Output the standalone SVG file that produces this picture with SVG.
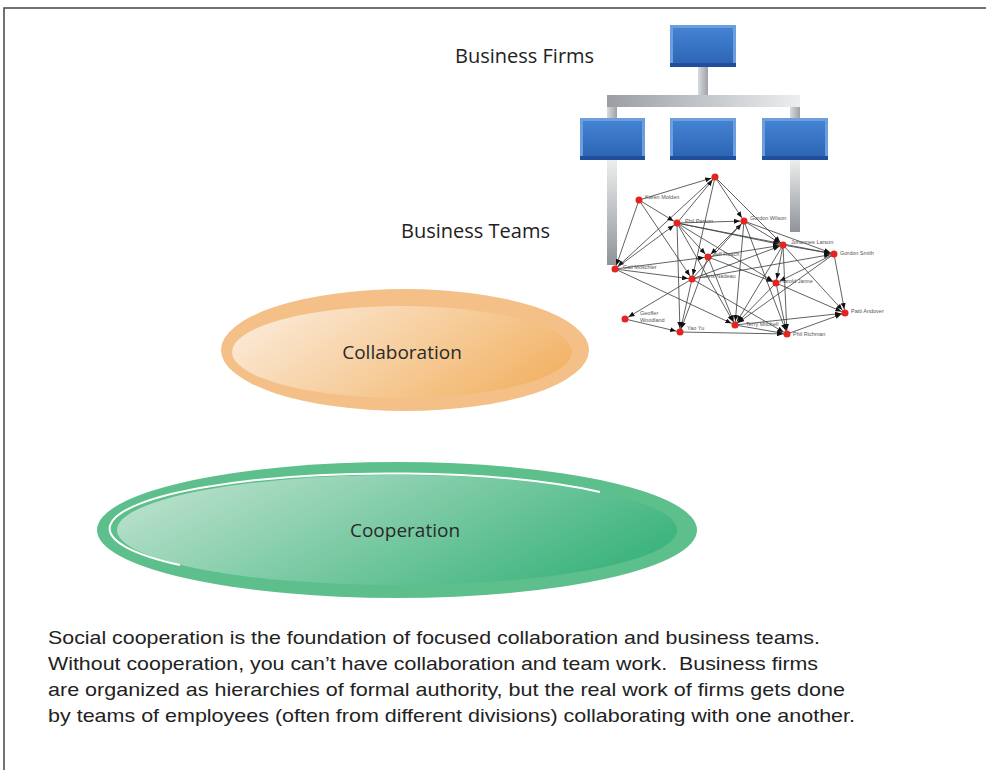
<svg xmlns="http://www.w3.org/2000/svg" width="987" height="770" viewBox="0 0 987 770">
<defs>
<style>
.title{font-family:"Open Sans","Noto Sans",sans-serif;font-size:20px;fill:#222}
.ell{font-family:"Open Sans","Noto Sans",sans-serif;font-size:19px;fill:#2a2a2a}
.para{font-family:"Liberation Sans",Arial,sans-serif;font-size:19px;fill:#222}
.lbl{font-family:"Liberation Sans",Arial,sans-serif;font-size:5.5px;fill:#555}
.dot{fill:#e52421}
.edge line{stroke:#3a3a3a;stroke-width:0.8;marker-end:url(#arr)}
.boxo{fill:#6c9ddd}
.boxi{fill:url(#blue)}
.boxb{fill:#1f4f9c}
</style>
<marker id="arr" markerUnits="userSpaceOnUse" markerWidth="6" markerHeight="5" refX="10" refY="2.5" orient="auto">
<path d="M0,0 L6,2.5 L0,5 z" fill="#111"/>
</marker>
<linearGradient id="blue" x1="0" y1="0" x2="0" y2="1">
<stop offset="0" stop-color="#4383d2"/><stop offset="1" stop-color="#2e66b6"/>
</linearGradient>
<linearGradient id="stemH" x1="0" y1="0" x2="1" y2="0">
<stop offset="0" stop-color="#d8dadc"/><stop offset="1" stop-color="#9ea2a7"/>
</linearGradient>
<linearGradient id="bar" x1="0" y1="0" x2="1" y2="0">
<stop offset="0" stop-color="#9a9ea4"/><stop offset="1" stop-color="#eceeef"/>
</linearGradient>
<linearGradient id="stemV" x1="0" y1="0" x2="0" y2="1">
<stop offset="0" stop-color="#eceded"/><stop offset="1" stop-color="#8f9399"/>
</linearGradient>
<linearGradient id="orange" x1="0" y1="0.3" x2="1" y2="0.7">
<stop offset="0" stop-color="#fbe9d5"/><stop offset="1" stop-color="#f2b264"/>
</linearGradient>
<linearGradient id="green" x1="0" y1="0.3" x2="1" y2="0.7">
<stop offset="0" stop-color="#b8e0cb"/><stop offset="1" stop-color="#38b27a"/>
</linearGradient>
</defs>
<rect width="987" height="770" fill="#fff"/>
<path d="M4,770 V8 H986" fill="none" stroke="#444" stroke-width="1.5"/>

<g id="org-connectors">
<rect x="698" y="67" width="10" height="30" fill="url(#stemH)"/>
<rect x="607" y="95" width="193" height="12" fill="url(#bar)"/>
<rect x="607" y="107" width="10" height="11" fill="url(#stemH)"/>
<rect x="790" y="107" width="10" height="11" fill="url(#stemH)"/>
<rect x="607" y="160" width="10" height="105" fill="url(#stemV)"/>
<rect x="790" y="160" width="10" height="72" fill="url(#stemV)"/>
</g>

<g id="box-top"><rect class="boxo" x="670" y="25" width="66" height="42"/><rect class="boxi" x="673" y="28" width="60" height="35"/><rect class="boxb" x="670" y="63" width="66" height="4"/></g>
<g id="box-left"><rect class="boxo" x="580" y="118" width="65" height="42"/><rect class="boxi" x="583" y="121" width="59" height="35"/><rect class="boxb" x="580" y="156" width="65" height="4"/></g>
<g id="box-mid"><rect class="boxo" x="670" y="118" width="66" height="42"/><rect class="boxi" x="673" y="121" width="60" height="35"/><rect class="boxb" x="670" y="156" width="66" height="4"/></g>
<g id="box-right"><rect class="boxo" x="762" y="118" width="66" height="42"/><rect class="boxi" x="765" y="121" width="60" height="35"/><rect class="boxb" x="762" y="156" width="66" height="4"/></g>

<text id="label-firms" class="title" x="455" y="63">Business Firms</text>
<text id="label-teams" class="title" x="401" y="238">Business Teams</text>

<g id="connectors" class="edge">
<line x1="639" y1="200" x2="715" y2="177"/>
<line x1="677" y1="223" x2="715" y2="177"/>
<line x1="715" y1="177" x2="744" y2="221"/>
<line x1="715" y1="177" x2="783" y2="245"/>
<line x1="715" y1="177" x2="692" y2="279"/>
<line x1="715" y1="177" x2="615" y2="269"/>
<line x1="639" y1="200" x2="677" y2="223"/>
<line x1="639" y1="200" x2="615" y2="269"/>
<line x1="639" y1="200" x2="692" y2="279"/>
<line x1="615" y1="269" x2="677" y2="223"/>
<line x1="677" y1="223" x2="744" y2="221"/>
<line x1="677" y1="223" x2="783" y2="245"/>
<line x1="677" y1="223" x2="834" y2="254"/>
<line x1="677" y1="223" x2="708" y2="257"/>
<line x1="677" y1="223" x2="680" y2="332"/>
<line x1="677" y1="223" x2="735" y2="325"/>
<line x1="677" y1="223" x2="776" y2="283"/>
<line x1="615" y1="269" x2="692" y2="279"/>
<line x1="615" y1="269" x2="708" y2="257"/>
<line x1="615" y1="269" x2="735" y2="325"/>
<line x1="692" y1="279" x2="625" y2="319"/>
<line x1="692" y1="279" x2="680" y2="332"/>
<line x1="692" y1="279" x2="834" y2="254"/>
<line x1="692" y1="279" x2="783" y2="245"/>
<line x1="692" y1="279" x2="787" y2="334"/>
<line x1="692" y1="279" x2="744" y2="221"/>
<line x1="708" y1="257" x2="783" y2="245"/>
<line x1="708" y1="257" x2="776" y2="283"/>
<line x1="708" y1="257" x2="735" y2="325"/>
<line x1="708" y1="257" x2="680" y2="332"/>
<line x1="744" y1="221" x2="708" y2="257"/>
<line x1="744" y1="221" x2="783" y2="245"/>
<line x1="744" y1="221" x2="834" y2="254"/>
<line x1="744" y1="221" x2="787" y2="334"/>
<line x1="744" y1="221" x2="735" y2="325"/>
<line x1="783" y1="245" x2="834" y2="254"/>
<line x1="783" y1="245" x2="776" y2="283"/>
<line x1="783" y1="245" x2="787" y2="334"/>
<line x1="783" y1="245" x2="735" y2="325"/>
<line x1="783" y1="245" x2="845" y2="313"/>
<line x1="834" y1="254" x2="776" y2="283"/>
<line x1="834" y1="254" x2="845" y2="313"/>
<line x1="834" y1="254" x2="735" y2="325"/>
<line x1="776" y1="283" x2="845" y2="313"/>
<line x1="776" y1="283" x2="787" y2="334"/>
<line x1="776" y1="283" x2="735" y2="325"/>
<line x1="735" y1="325" x2="787" y2="334"/>
<line x1="787" y1="334" x2="845" y2="313"/>
<line x1="735" y1="325" x2="845" y2="313"/>
<line x1="625" y1="319" x2="680" y2="332"/>
<line x1="680" y1="332" x2="787" y2="334"/>
</g>

<g id="n-top"><circle class="dot" cx="715" cy="177" r="3.5"/></g>
<g id="n-karen"><circle class="dot" cx="639" cy="200" r="3.5"/><text class="lbl" x="645" y="199">Karen Molden</text></g>
<g id="n-phil-p"><circle class="dot" cx="677" cy="223" r="3.5"/><text class="lbl" x="685" y="223">Phil Parson</text></g>
<g id="n-gordon-w"><circle class="dot" cx="744" cy="221" r="3.5"/><text class="lbl" x="750" y="220">Gordon Wilson</text></g>
<g id="n-johannes"><circle class="dot" cx="783" cy="245" r="3.5"/><text class="lbl" x="791" y="244">Johannes Larson</text></g>
<g id="n-gordon-s"><circle class="dot" cx="834" cy="254" r="3.5"/><text class="lbl" x="840" y="255">Gordon Smith</text></g>
<g id="n-jeff"><circle class="dot" cx="708" cy="257" r="3.5"/><text class="lbl" x="713" y="256">Jeff Roach</text></g>
<g id="n-gail"><circle class="dot" cx="615" cy="269" r="3.5"/><text class="lbl" x="623" y="269">Gail Moschler</text></g>
<g id="n-chris"><circle class="dot" cx="692" cy="279" r="3.5"/><text class="lbl" x="702" y="278">Chris Nadeau</text></g>
<g id="n-harold"><circle class="dot" cx="776" cy="283" r="3.5"/><text class="lbl" x="780" y="283">Harold Janne</text></g>
<g id="n-geoffer"><circle class="dot" cx="625" cy="319" r="3.5"/><text class="lbl" x="640" y="315">Geoffer</text><text class="lbl" x="640" y="322">Woodland</text></g>
<g id="n-yao"><circle class="dot" cx="680" cy="332" r="3.5"/><text class="lbl" x="687" y="330">Yao Yu</text></g>
<g id="n-terry"><circle class="dot" cx="735" cy="325" r="3.5"/><text class="lbl" x="746" y="326">Terry Mitchell</text></g>
<g id="n-phil-r"><circle class="dot" cx="787" cy="334" r="3.5"/><text class="lbl" x="793" y="336">Phil Richman</text></g>
<g id="n-patti"><circle class="dot" cx="845" cy="313" r="3.5"/><text class="lbl" x="851" y="313">Patti Andover</text></g>

<g id="collaboration">
<ellipse cx="405" cy="350" rx="184" ry="61" fill="#f4c088"/>
<ellipse cx="402" cy="352" rx="170" ry="46" fill="url(#orange)"/>
<text class="ell" x="402" y="359" text-anchor="middle">Collaboration</text>
</g>

<g id="cooperation">
<ellipse cx="397" cy="530" rx="300" ry="68" fill="#5dbf8b"/>
<ellipse cx="397" cy="530" rx="280" ry="55" fill="url(#green)"/>
<path d="M180,565 A280,55 0 0 1 600,492" fill="none" stroke="#fff" stroke-width="2"/>
<text class="ell" x="405" y="537" text-anchor="middle">Cooperation</text>
</g>

<g id="caption">
<text class="para" x="48" y="644" textLength="772" lengthAdjust="spacingAndGlyphs">Social cooperation is the foundation of focused collaboration and business teams.</text>
<text class="para" x="48" y="670" textLength="770" lengthAdjust="spacingAndGlyphs" xml:space="preserve">Without cooperation, you can’t have collaboration and team work.  Business firms</text>
<text class="para" x="48" y="696" textLength="797" lengthAdjust="spacingAndGlyphs">are organized as hierarchies of formal authority, but the real work of firms gets done</text>
<text class="para" x="48" y="722" textLength="807" lengthAdjust="spacingAndGlyphs">by teams of employees (often from different divisions) collaborating with one another.</text>
</g>
</svg>
